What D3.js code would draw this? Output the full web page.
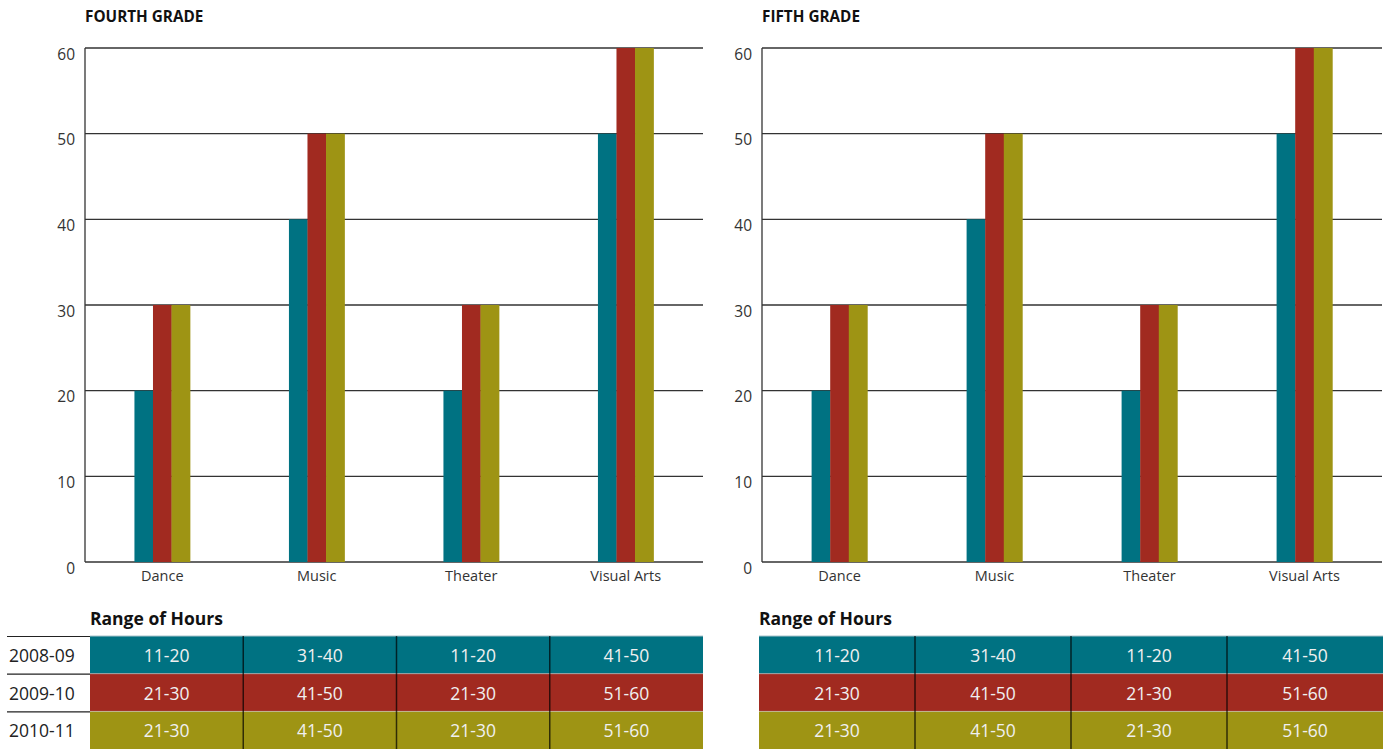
<!DOCTYPE html>
<html lang="en">
<head>
<meta charset="utf-8">
<title>Arts Instruction Hours</title>
<script src="https://d3js.org/d3.v7.min.js"></script>
<style>
  body { margin: 0; background: #fff; font-family: "Open Sans", "Noto Sans", sans-serif; }
  svg { display: block; }
</style>
</head>
<body>
<div id="chart"></div>
<script>
// categories + series
const categories = ["Dance", "Music", "Theater", "Visual Arts"];
const years = ["2008-09", "2009-10", "2010-11"];
const colors = ["#007282", "#a12a20", "#9e9414"];
const yTicks = [0, 10, 20, 30, 40, 50, 60];

// hours per year (rows) for each category (cols)
const fourthHours = [
  [20, 40, 20, 50],
  [30, 50, 30, 60],
  [30, 50, 30, 60]
];
const fifthHours = [
  [20, 40, 20, 50],
  [30, 50, 30, 60],
  [30, 50, 30, 60]
];
// range-of-hours table labels
const fourthRanges = [
  ["11-20", "31-40", "11-20", "41-50"],
  ["21-30", "41-50", "21-30", "51-60"],
  ["21-30", "41-50", "21-30", "51-60"]
];
const fifthRanges = [
  ["11-20", "31-40", "11-20", "41-50"],
  ["21-30", "41-50", "21-30", "51-60"],
  ["21-30", "41-50", "21-30", "51-60"]
];

const W = 1384, H = 749;
const svg = d3.select("#chart").append("svg").attr("width", W).attr("height", H);

const panels = [
  {title: "FOURTH GRADE", hours: fourthHours, ranges: fourthRanges, x0: 85, x1: 703, t0: 90, t1: 703, rowLabels: true},
  {title: "FIFTH GRADE", hours: fifthHours, ranges: fifthRanges, x0: 762, x1: 1382, t0: 759, t1: 1383, rowLabels: false}
];

const y = d3.scaleLinear().domain([0, 60]).range([562, 48]);
const rowTop = 636, rowH = 37.7;

panels.forEach(function(p) {
  const g = svg.append("g");

  g.append("text")
    .attr("x", p.x0).attr("y", 22)
    .style("font-size", "15.3px").style("font-weight", "bold").style("fill", "#111")
    .text(p.title);

  const x = d3.scaleBand().domain(categories).range([p.x0, p.x1])
    .paddingInner(0.64).paddingOuter(0.32);
  const xs = d3.scaleBand().domain(years).range([0, x.bandwidth()]);

  // grid lines
  g.selectAll(".grid").data(yTicks).enter().append("line")
    .attr("x1", p.x0).attr("x2", p.x1)
    .attr("y1", d => y(d)).attr("y2", d => y(d))
    .attr("stroke", "#333").attr("stroke-width", 1.3);

  // y axis line + labels
  g.append("line")
    .attr("x1", p.x0).attr("x2", p.x0).attr("y1", y(60)).attr("y2", y(0))
    .attr("stroke", "#333").attr("stroke-width", 1.3);
  g.selectAll(".ylab").data(yTicks).enter().append("text")
    .attr("x", p.x0 - 10).attr("y", d => y(d) + 11.5)
    .attr("text-anchor", "end")
    .style("font-size", "15.5px").style("fill", "#333")
    .text(d => d);

  // bars
  years.forEach(function(yr, i) {
    g.selectAll(".bar" + i).data(categories).enter().append("rect")
      .attr("x", c => x(c) + xs(yr))
      .attr("width", xs.bandwidth() + 0.3)
      .attr("y", (c, j) => y(p.hours[i][j]))
      .attr("height", (c, j) => y(0) - y(p.hours[i][j]))
      .attr("fill", colors[i]);
  });

  // category labels
  g.selectAll(".xlab").data(categories).enter().append("text")
    .attr("x", c => x(c) + x.bandwidth() / 2).attr("y", 581)
    .attr("text-anchor", "middle")
    .style("font-size", "14.5px").style("fill", "#333")
    .text(c => c);

  // table
  g.append("text")
    .attr("x", p.t0).attr("y", 625)
    .style("font-size", "17.5px").style("font-weight", "bold").style("fill", "#111")
    .text("Range of Hours");

  const tx = d3.scaleBand().domain(categories).range([p.t0, p.t1]);

  years.forEach(function(yr, i) {
    const top = rowTop + i * rowH;
    g.append("rect")
      .attr("x", p.t0).attr("y", top).attr("width", p.t1 - p.t0).attr("height", rowH)
      .attr("fill", colors[i]);
    g.selectAll(".cell" + i).data(categories).enter().append("text")
      .attr("x", c => tx(c) + tx.bandwidth() / 2).attr("y", top + 26)
      .attr("text-anchor", "middle")
      .style("font-size", "17.5px").style("fill", "#f0f0f0")
      .text((c, j) => p.ranges[i][j]);
    if (i > 0) {
      g.append("line")
        .attr("x1", p.t0).attr("x2", p.t1).attr("y1", top).attr("y2", top)
        .attr("stroke", "#c8c8c8").attr("stroke-opacity", 0.6).attr("stroke-width", 1);
    }
    if (p.rowLabels) {
      g.append("line")
        .attr("x1", 7).attr("x2", p.t0).attr("y1", top + 0.5).attr("y2", top + 0.5)
        .attr("stroke", "#222").attr("stroke-width", 1.2);
      g.append("text")
        .attr("x", 9).attr("y", top + 26)
        .style("font-size", "17.5px").style("fill", "#222")
        .text(yr);
    }
  });
  g.append("line")
    .attr("x1", p.t0).attr("x2", p.t1).attr("y1", rowTop).attr("y2", rowTop)
    .attr("stroke", "#a9c3cb").attr("stroke-width", 1.2);

  // column separators
  g.selectAll(".sep").data(categories.slice(1)).enter().append("line")
    .attr("x1", c => tx(c)).attr("x2", c => tx(c))
    .attr("y1", rowTop).attr("y2", H)
    .attr("stroke", "#000").attr("stroke-opacity", 0.7).attr("stroke-width", 1.5);
});
</script>
</body>
</html>
